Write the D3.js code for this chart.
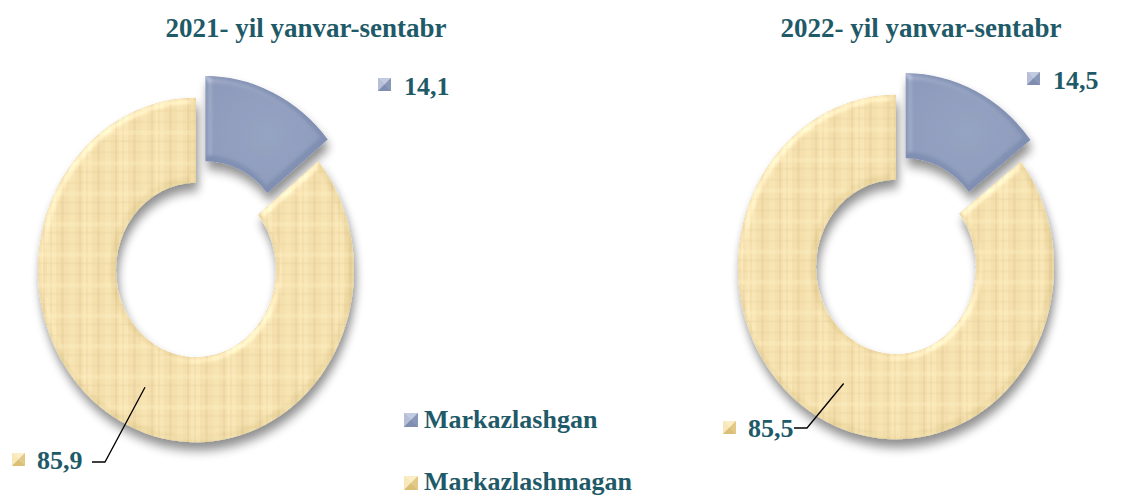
<!DOCTYPE html>
<html>
<head>
<meta charset="utf-8">
<script src="https://cdn.jsdelivr.net/npm/d3@7"></script>
<style>
  body { margin: 0; background: #fff; }
  svg { display: block; }
  text { font-family: "Liberation Serif", "Times New Roman", serif; font-weight: bold; fill: #1f5a68; }
</style>
</head>
<body>
<script>
// data
var titles = ['2021- yil yanvar-sentabr', '2022- yil yanvar-sentabr'];
var categories = ['Markazlashgan', 'Markazlashmagan'];
var values_2021 = [14.1, 85.9];
var values_2022 = [14.5, 85.5];

var width = 1144, height = 495;
var outer_r = 158, inner_r = 80, y_stretch = 1.09, explode = 22;

// layout of the two charts (centres, title anchor, label anchors)
var layout = [
  {cx: 196, cy: 270, tx: 306, ty: 37, small: [378, 78], big: [12, 453], elbow: [105, 462]},
  {cx: 896, cy: 267, tx: 921, ty: 37, small: [1027, 72], big: [723, 421], elbow: [807, 428]}
];
var all_values = [values_2021, values_2022];

var comma = d3.formatLocale({decimal: ',', thousands: ' ', grouping: [3], currency: ['', '']}).format('.1f');

var svg = d3.select('body').append('svg').attr('width', width).attr('height', height);
var defs = svg.append('defs');

// fills
var g_blue = defs.append('radialGradient').attr('id', 'blue_fill').attr('cx', '50%').attr('cy', '50%').attr('r', '60%');
g_blue.append('stop').attr('offset', '0%').attr('stop-color', '#8796b8');
g_blue.append('stop').attr('offset', '100%').attr('stop-color', '#7d8cb0');

// canvas-like texture for the tan ring: soft bands of lighter / darker tan
var pat = defs.append('pattern').attr('id', 'tan_tex').attr('width', 36).attr('height', 28).attr('patternUnits', 'userSpaceOnUse');
pat.append('rect').attr('width', 36).attr('height', 28).attr('fill', '#edd7a0');
[[0, 4, '#f6e5b6', 0.5], [9, 3, '#d9c089', 0.3], [17, 6, '#f4e2b0', 0.45], [27, 2, '#d6bc84', 0.3], [31, 3, '#f7e8bc', 0.4]]
  .forEach(function(b)  {
    pat.append('rect').attr('x', b[0]).attr('width', b[1]).attr('height', 28).attr('fill', b[2]).attr('opacity', b[3]);
  });
[[3, 2, '#dcc38c', 0.25], [12, 4, '#f6e6b8', 0.35], [21, 2, '#d8bf88', 0.25]]
  .forEach(function(b)  {
    pat.append('rect').attr('y', b[0]).attr('height', b[1]).attr('width', 36).attr('fill', b[2]).attr('opacity', b[3]);
  });

// bevel + shadow
var f = defs.append('filter').attr('id', 'bevel').attr('x', '-20%').attr('y', '-20%').attr('width', '140%').attr('height', '150%');
f.append('feGaussianBlur').attr('in', 'SourceAlpha').attr('stdDeviation', 3).attr('result', 'blur');
f.append('feSpecularLighting').attr('in', 'blur').attr('surfaceScale', 3).attr('specularConstant', 0.5)
  .attr('specularExponent', 14).attr('lighting-color', '#ffffff').attr('result', 'spec')
  .append('feDistantLight').attr('azimuth', 225).attr('elevation', 40);
f.append('feComposite').attr('in', 'spec').attr('in2', 'SourceAlpha').attr('operator', 'in').attr('result', 'spec_in');
f.append('feComposite').attr('in', 'SourceGraphic').attr('in2', 'spec_in').attr('operator', 'arithmetic')
  .attr('k1', 0).attr('k2', 1).attr('k3', 0.5).attr('k4', 0).attr('result', 'lit');
f.append('feGaussianBlur').attr('in', 'SourceAlpha').attr('stdDeviation', 5).attr('result', 'sblur');
f.append('feOffset').attr('in', 'sblur').attr('dx', 2).attr('dy', 7).attr('result', 'soff');
f.append('feComponentTransfer').attr('in', 'soff').attr('result', 'shadow')
  .append('feFuncA').attr('type', 'linear').attr('slope', 0.45);
var fm = f.append('feMerge');
fm.append('feMergeNode').attr('in', 'shadow');
fm.append('feMergeNode').attr('in', 'lit');

// legend markers (little pyramid squares)
function marker(sel, x, y, size, i)  {
  var light = i == 0 ? '#c3cbe0' : '#fbeec6', mid = i == 0 ? '#9aa6c6' : '#f0d99c', dark = i == 0 ? '#7f8db0' : '#d9bf78';
  var g = sel.append('g').attr('transform', 'translate(' + x + ',' + y + ')');
  var s = size, c = size / 2;
  g.append('rect').attr('width', s).attr('height', s).attr('fill', mid);
  g.append('path').attr('d', 'M0,0L' + s + ',0L' + c + ',' + c + 'Z').attr('fill', light);
  g.append('path').attr('d', 'M0,0L0,' + s + 'L' + c + ',' + c + 'Z').attr('fill', light).attr('opacity', 0.7);
  g.append('path').attr('d', 'M' + s + ',0L' + s + ',' + s + 'L' + c + ',' + c + 'Z').attr('fill', dark).attr('opacity', 0.6);
  g.append('path').attr('d', 'M0,' + s + 'L' + s + ',' + s + 'L' + c + ',' + c + 'Z').attr('fill', dark);
}

var pie = d3.pie().sort(null).value(d => d);
var arc = d3.arc().innerRadius(inner_r).outerRadius(outer_r);
var fills = ['url(#blue_fill)', 'url(#tan_tex)'];

for(var k = 0; k < all_values.length; k++)  {
  var L = layout[k];
  var arcs = pie(all_values[k]);

  svg.append('text').attr('x', L.tx).attr('y', L.ty).attr('text-anchor', 'middle')
    .style('font-size', '27px').text(titles[k]);

  var g = svg.append('g').attr('transform', 'translate(' + L.cx + ',' + L.cy + ') scale(1,' + y_stretch + ')');
  g.selectAll('path').data(arcs).enter().append('path')
    .attr('d', arc)
    .attr('fill', (d, i) => fills[i])
    .attr('filter', 'url(#bevel)')
    .attr('transform', function(d, i)  {
      if(i != 0) return null;
      var a = (d.startAngle + d.endAngle) / 2;
      return 'translate(' + (explode * Math.sin(a)) + ',' + (-explode * Math.cos(a)) + ')';
    });

  // small slice label
  marker(svg, L.small[0], L.small[1], 13, 0);
  svg.append('text').attr('x', L.small[0] + 26).attr('y', L.small[1] + 17)
    .style('font-size', '26px').text(comma(arcs[0].data));

  // big slice label with leader line
  var c = arc.centroid(arcs[1]);
  var start = [L.cx + c[0], L.cy + c[1] * y_stretch];
  svg.append('path')
    .attr('d', d3.line()([[L.elbow[0] - 13, L.elbow[1]], L.elbow, start]))
    .attr('fill', 'none').attr('stroke', '#000').attr('stroke-width', 1.3);
  marker(svg, L.big[0], L.big[1], 13, 1);
  svg.append('text').attr('x', L.big[0] + 25).attr('y', L.big[1] + 16)
    .style('font-size', '26px').text(comma(arcs[1].data));
}

// legend
var legend = svg.append('g');
categories.forEach(function(name, i)  {
  marker(legend, 404, 413 + i * 63, 14, i);
  legend.append('text').attr('x', 424).attr('y', 428 + i * 62).style('font-size', '26px').text(name);
});
</script>
</body>
</html>
